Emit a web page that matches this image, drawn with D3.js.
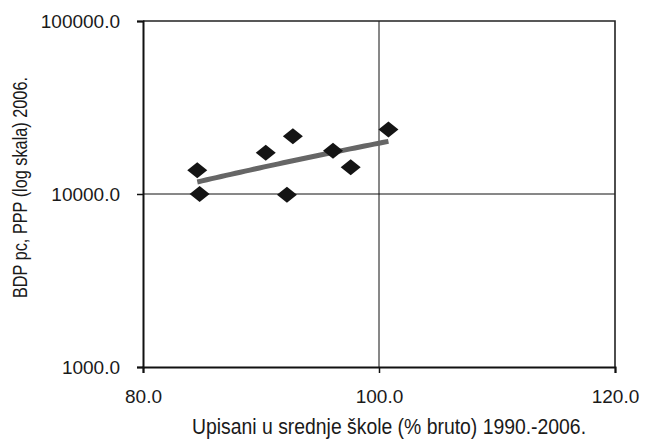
<!DOCTYPE html>
<html>
<head>
<meta charset="utf-8">
<script src="https://cdn.jsdelivr.net/npm/d3@7"></script>
<style>
  body { margin: 0; background: #fff; }
  text { font-family: "Liberation Sans", Arial, sans-serif; fill: #1a1a1a; }
</style>
</head>
<body>
<div id="chart"></div>
<script>
// upisani u srednje skole (% bruto) vs BDP pc PPP
const enrolment = [84.6, 84.8, 90.4, 92.7, 92.2, 96.1, 97.6, 100.8];
const gdp = [13700, 10000, 17300, 21600, 9900, 17800, 14300, 23600];

const xTicks = [80, 100, 120];
const yTicks = [1000, 10000, 100000];

const width = 645;
const height = 442;
const margin = { top: 21, right: 30, bottom: 75, left: 143 };

const svg = d3.select('#chart').append('svg')
    .attr('width', width)
    .attr('height', height);

const x = d3.scaleLinear()
    .domain([80, 120])
    .range([margin.left, width - margin.right]);

const y = d3.scaleLog()
    .domain([1000, 100000])
    .range([height - margin.bottom, margin.top]);

// grid lines
svg.append('g')
    .selectAll('line')
    .data([10000])
    .join('line')
    .attr('x1', x(80)).attr('x2', x(120))
    .attr('y1', d => y(d)).attr('y2', d => y(d))
    .attr('stroke', '#111').attr('stroke-width', 1);

svg.append('g')
    .selectAll('line')
    .data([100])
    .join('line')
    .attr('x1', d => x(d)).attr('x2', d => x(d))
    .attr('y1', y(1000)).attr('y2', y(100000))
    .attr('stroke', '#111').attr('stroke-width', 1);

// frame top/right
svg.append('path')
    .attr('d', `M${x(80)},${y(100000)}H${x(120)}V${y(1000)}`)
    .attr('fill', 'none')
    .attr('stroke', '#222')
    .attr('stroke-width', 1.6);

const fmt = d3.format('.1f');

const xAxis = svg.append('g')
    .attr('transform', `translate(0,${y(1000)})`)
    .call(d3.axisBottom(x).tickValues(xTicks).tickFormat(fmt).tickSize(6).tickPadding(17));

const yAxis = svg.append('g')
    .attr('transform', `translate(${x(80)},0)`)
    .call(d3.axisLeft(y).tickValues(yTicks).tickFormat(fmt).tickSize(6).tickPadding(17));

[xAxis, yAxis].forEach(g => {
    g.select('.domain').attr('stroke', '#111').attr('stroke-width', 2);
    g.selectAll('.tick line').attr('stroke', '#111').attr('stroke-width', 1.5);
    g.selectAll('.tick text')
        .style('font-family', '"Liberation Sans", Arial, sans-serif')
        .style('font-size', '19px')
        .attr('fill', '#1a1a1a');
});

// power trend fitted on the points
const lx = enrolment.map(Math.log);
const ly = gdp.map(Math.log);
const mx = d3.mean(lx);
const my = d3.mean(ly);
const b = d3.sum(lx, (v, i) => (v - mx) * (ly[i] - my)) / d3.sum(lx, v => (v - mx) ** 2);
const a = my - b * mx;
const [xMin, xMax] = d3.extent(enrolment);
const trendX = d3.range(0, 41).map(i => xMin + (xMax - xMin) * i / 40);

svg.append('path')
    .datum(trendX)
    .attr('d', d3.line()
        .x(d => x(d))
        .y(d => y(Math.exp(a + b * Math.log(d)))))
    .attr('fill', 'none')
    .attr('stroke', '#666')
    .attr('stroke-width', 5);

// diamonds
const diamond = 'M0,-8L10,0L0,8L-10,0Z';
svg.append('g')
    .selectAll('path')
    .data(enrolment)
    .join('path')
    .attr('d', diamond)
    .attr('transform', (d, i) => `translate(${x(d)},${y(gdp[i])})`)
    .attr('fill', '#141414');

svg.append('g')
    .attr('transform', 'translate(389,434) scale(1,1.12)')
    .append('text')
    .attr('text-anchor', 'middle')
    .attr('textLength', 394)
    .attr('lengthAdjust', 'spacingAndGlyphs')
    .style('font-size', '19px')
    .text('Upisani u srednje škole (% bruto) 1990.-2006.');

svg.append('g')
    .attr('transform', `translate(27,${(77 + 298) / 2}) rotate(-90) scale(1,1.2)`)
    .append('text')
    .attr('text-anchor', 'middle')
    .attr('textLength', 221)
    .attr('lengthAdjust', 'spacingAndGlyphs')
    .style('font-size', '16.5px')
    .text('BDP pc, PPP (log skala) 2006.');
</script>
</body>
</html>
